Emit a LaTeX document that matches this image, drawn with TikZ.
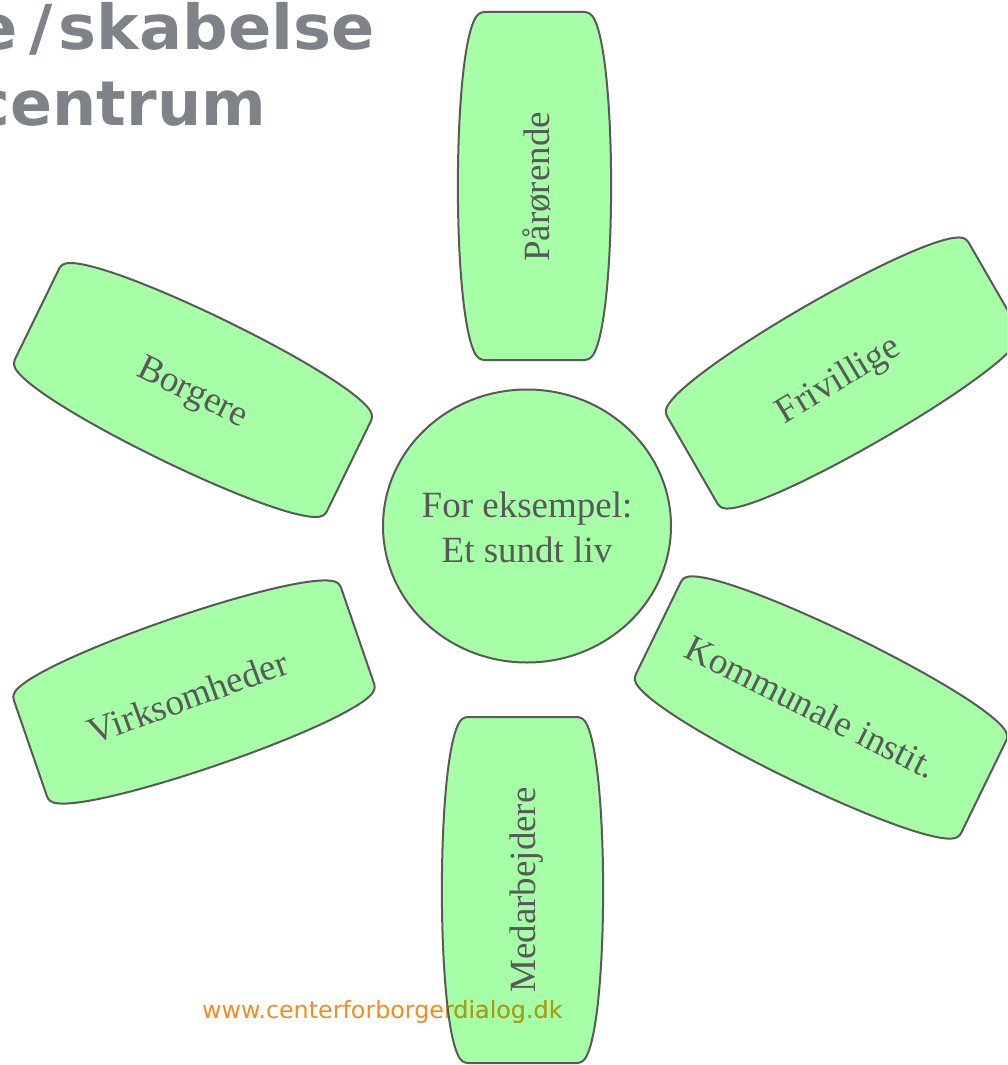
\documentclass[tikz,border=0pt]{standalone}
\usepackage{fontspec}
\setmainfont{Liberation Serif}
\newfontfamily\vfont{DejaVu Sans}
\newfontfamily\vtitlefont{DejaVu Sans}[FakeStretch=1.03]
\definecolor{petalfill}{RGB}{166,255,166}
\definecolor{petalline}{RGB}{89,89,89}
\definecolor{txtgray}{RGB}{89,89,89}
\definecolor{titlegray}{RGB}{127,131,137}
\definecolor{weborange}{RGB}{242,140,30}
\definecolor{webolive}{RGB}{158,162,24}
\newcommand\setpetal[6]{\def\pcx{#1}\def\pcy{#2}\def\pang{#3}%
  \pgfmathsetmacro\ph{#4/2}\pgfmathsetmacro\pa{#5/2}%
  \pgfmathsetmacro\pc{2*(#6-#5)/3}\pgfmathsetmacro\ps{0.06*#4}}
\tikzset{
  petalpath/.style={insert path={(-\ph,0) -- (-\ph,\pa)
     .. controls (-\ph+\ps,\pa+\pc) and (\ph-\ps,\pa+\pc) .. (\ph,\pa)
     -- (\ph,-\pa)
     .. controls (\ph-\ps,-\pa-\pc) and (-\ph+\ps,-\pa-\pc) .. (-\ph,-\pa) -- cycle}},
  petalat/.style={shift={(\pcx,-\pcy)},rotate=\pang,rounded corners=3pt,petalpath},
  petalfilled/.style={fill=petalfill},
  petaldrawn/.style={draw=petalline,line width=2pt,line join=round},
  petaltext/.style={text=txtgray,font=\fontsize{37}{44}\selectfont,inner sep=0pt},
  hubtext/.style={inner sep=0pt,align=center,text=txtgray,font=\fontsize{37}{45}\selectfont},
  titletext/.style={text=titlegray,font=\vtitlefont\bfseries\fontsize{62}{75}\selectfont,inner sep=0pt},
  titletexttwo/.style={text=titlegray,font=\vfont\bfseries\fontsize{62}{75}\selectfont,inner sep=0pt},
  webtext/.style={font=\vfont\fontsize{23.8}{28}\selectfont,inner sep=0pt}
}
\begin{document}
\begin{tikzpicture}[x=1pt,y=1pt]
\useasboundingbox (0,0) rectangle (1007,-1065);
\clip (0,0) rectangle (1007,-1065);
% title
\node[titletext,anchor=base east] (title1) at (375,-50) {e\kern12pt/\kern6pt skabelse};
\node[titletexttwo,anchor=base east] (title2) at (266,-125) {centrum};
% petals
\setpetal{534.5}{186}{90}{348}{106}{152}
\path[petalfilled,petaldrawn,petalat];
\node[petaltext,rotate=90] (paarorende) at (537,-187) {Pårørende};
\setpetal{193}{390}{-26}{347}{107}{152}
\path[petalfilled,petaldrawn,petalat];
\node[petaltext,rotate=-26] (borgere) at (192,-394) {Borgere};
\setpetal{843}{373}{30}{348}{107}{152}
\path[petalfilled,petaldrawn,petalat];
\node[petaltext,rotate=31] (frivillige) at (839,-381) {Frivillige};
\setpetal{194}{692}{19}{346}{108}{152}
\path[petalfilled,petaldrawn,petalat];
\node[petaltext,rotate=20] (virksomheder) at (188,-697) {Virksomheder};
\setpetal{821}{707.5}{-26}{362}{109}{155}
\path[petalfilled,petaldrawn,petalat];
\node[petaltext,rotate=-26.5] (kommunale) at (811,-707) {Kommunale instit.};
% bottom petal with footer over it
\setpetal{522.5}{890}{90}{346}{115}{160}
\path[petalfilled,petalat];
\node[petaltext,rotate=90] (medarbejdere) at (527,-890) {Medarbejdere};
\node[webtext,text=weborange,anchor=base west] (web) at (202,-1018) {www.centerforborgerdialog.dk};
\begin{scope}
\clip[petalat];
\node[webtext,text=webolive,anchor=base west] (webover) at (202,-1018) {www.centerforborgerdialog.dk};
\end{scope}
\path[petaldrawn,petalat];
% hub
\path[petalfilled,petaldrawn] (527,-526) ellipse [x radius=144, y radius=136.5];
\node[hubtext] (hub) at (527,-527) {For eksempel:\\Et sundt liv};
\end{tikzpicture}
\end{document}
